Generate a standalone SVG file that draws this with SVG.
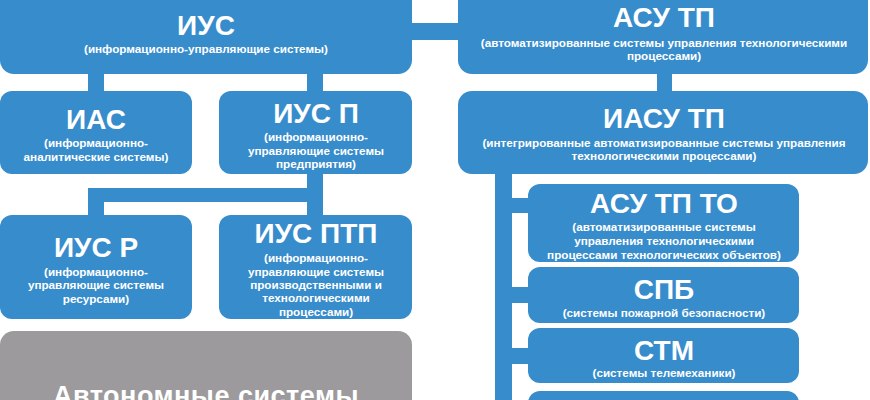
<svg xmlns="http://www.w3.org/2000/svg" width="870" height="400" viewBox="0 0 870 400">
<style>
.b{fill:#378ccc}
.g{fill:#9c9a9c}
.c{fill:#378ccc}
text{font-family:"Liberation Sans",Arial,sans-serif;font-weight:bold;fill:#fff;text-anchor:middle}
.t{font-size:28px}
.s{font-size:11.7px}
.big{font-size:27px;letter-spacing:0.5px}
</style>
<rect width="870" height="400" fill="#fff"/>
<g id="connectors">
<rect class="c" x="410" y="23" width="50" height="17"/>
<rect class="c" x="88" y="72" width="16" height="21"/>
<rect class="c" x="307" y="72" width="16" height="21"/>
<rect class="c" x="307" y="172" width="16" height="45"/>
<rect class="c" x="88" y="188" width="235" height="14"/>
<rect class="c" x="88" y="188" width="16" height="29"/>
<rect class="c" x="657" y="72" width="15" height="21"/>
<rect class="c" x="495" y="172" width="17" height="240"/>
<rect class="c" x="495" y="198" width="35" height="15"/>
<rect class="c" x="495" y="287" width="35" height="16"/>
<rect class="c" x="495" y="348" width="35" height="16"/>
</g>
<g id="ius">
<rect class="b" x="0" y="-20" width="412" height="94" rx="14"/>
<text class="t" x="206" y="35">ИУС</text>
<text class="s" x="206" y="53">(информационно-управляющие системы)</text>
</g>
<g id="ias">
<rect class="b" x="0" y="91" width="192" height="83" rx="12"/>
<text class="t" x="96" y="129">ИАС</text>
<text class="s" x="96" y="147">(информационно-</text>
<text class="s" x="96" y="161">аналитические системы)</text>
</g>
<g id="ius-p">
<rect class="b" x="219" y="91" width="193" height="83" rx="12"/>
<text class="t" x="316" y="123">ИУС П</text>
<text class="s" x="316" y="141">(информационно-</text>
<text class="s" x="316" y="155">управляющие системы</text>
<text class="s" x="316" y="168">предприятия)</text>
</g>
<g id="ius-r">
<rect class="b" x="0" y="215" width="192" height="104" rx="12"/>
<text class="t" x="96" y="257">ИУС Р</text>
<text class="s" x="96" y="276">(информационно-</text>
<text class="s" x="96" y="289">управляющие системы</text>
<text class="s" x="96" y="303">ресурсами)</text>
</g>
<g id="ius-ptp">
<rect class="b" x="219" y="215" width="193" height="104" rx="12"/>
<text class="t" x="316" y="243">ИУС ПТП</text>
<text class="s" x="316" y="262">(информационно-</text>
<text class="s" x="316" y="276">управляющие системы</text>
<text class="s" x="316" y="289">производственными и</text>
<text class="s" x="316" y="302">технологическими</text>
<text class="s" x="316" y="316">процессами)</text>
</g>
<g id="autonomous">
<rect class="g" x="0" y="331" width="412" height="100" rx="14"/>
<text class="big" x="206" y="405">Автономные системы</text>
</g>
<g id="asu-tp">
<rect class="b" x="458" y="-20" width="410" height="94" rx="14"/>
<text class="t" x="664" y="27">АСУ ТП</text>
<text class="s" x="664" y="47">(автоматизированные системы управления технологическими</text>
<text class="s" x="664" y="60">процессами)</text>
</g>
<g id="iasu-tp">
<rect class="b" x="458" y="91" width="410" height="83" rx="14"/>
<text class="t" x="664" y="128">ИАСУ ТП</text>
<text class="s" x="664" y="147">(интегрированные автоматизированные системы управления</text>
<text class="s" x="664" y="160">технологическими процессами)</text>
</g>
<g id="asu-tp-to">
<rect class="b" x="528" y="184" width="271" height="78" rx="12"/>
<text class="t" x="664" y="213">АСУ ТП ТО</text>
<text class="s" x="664" y="231">(автоматизированные системы</text>
<text class="s" x="664" y="245">управления технологическими</text>
<text class="s" x="664" y="259">процессами технологических объектов)</text>
</g>
<g id="spb">
<rect class="b" x="528" y="267" width="271" height="56" rx="12"/>
<text class="t" x="664" y="299">СПБ</text>
<text class="s" x="664" y="317">(системы пожарной безопасности)</text>
</g>
<g id="stm">
<rect class="b" x="528" y="328" width="271" height="55" rx="12"/>
<text class="t" x="664" y="360">СТМ</text>
<text class="s" x="664" y="377">(системы телемеханики)</text>
</g>
<g id="next">
<rect class="b" x="528" y="391" width="271" height="40" rx="12"/>
</g>
</svg>
